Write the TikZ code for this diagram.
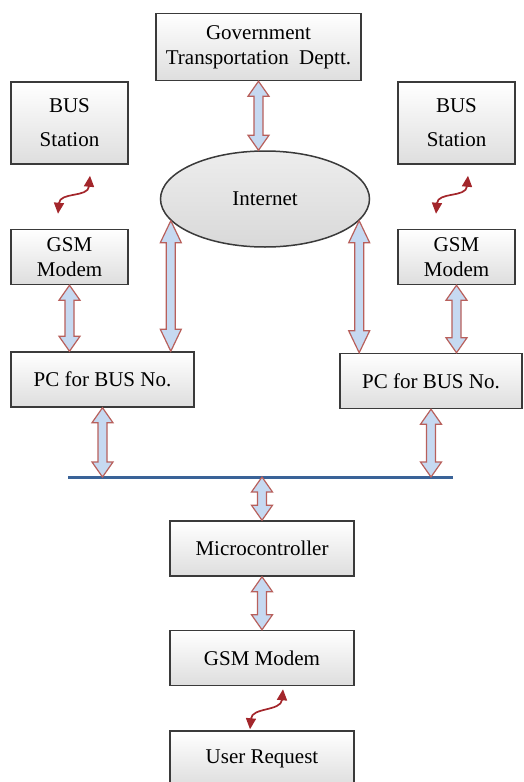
\documentclass[tikz,border=0pt]{standalone}
\usepackage{fontspec}
\setmainfont{Liberation Serif}
\usetikzlibrary{arrows.meta,positioning,calc,shapes.geometric}
\definecolor{edgegray}{HTML}{3A3A3A}
\definecolor{arrowfill}{HTML}{C6D9F1}
\definecolor{arrowline}{HTML}{B8605C}
\definecolor{radiored}{HTML}{A3262B}
\definecolor{busblue}{HTML}{3A6398}
\tikzset{
    %Define standard arrow tip
    >={Triangle[width=10pt,length=11pt]},
    unit/.style={
      rectangle,
      draw=edgegray, line width=1.5pt,
      top color=white, bottom color=black!13,
      inner sep=0pt,
      minimum width=117pt,
      minimum height=55pt,
      align=center,
      font=\fontsize{21}{25}\selectfont},
    net/.style={
      ellipse,
      draw=edgegray, line width=1.5pt,
      top color=black!7, bottom color=black!15,
      inner sep=0pt,
      minimum width=209pt,
      minimum height=96pt,
      font=\fontsize{21}{25}\selectfont},
    blockarrow/.style={
      draw=arrowline, fill=arrowfill,
      line width=1.2pt, line join=miter},
    radio/.style={
      <->, draw=radiored, line width=1.7pt},
    busline/.style={
      draw=busblue, line width=3pt},
}
% two-headed block arrow from a top point down to a bottom point
\newcommand{\twoway}[3][15pt]{%
  \filldraw[blockarrow] let \p1=#2, \p2=#3 in
    (\x1,\y1) -- (\x1+10.5pt,\y1-#1) -- (\x1+4.5pt,\y1-#1)
    -- (\x1+4.5pt,\y2+#1) -- (\x1+10.5pt,\y2+#1) -- (\x1,\y2)
    -- (\x1-10.5pt,\y2+#1) -- (\x1-4.5pt,\y2+#1)
    -- (\x1-4.5pt,\y1-#1) -- (\x1-10.5pt,\y1-#1) -- cycle;}

\begin{document}
\begin{tikzpicture}[x=1pt,y=-1pt]
    \useasboundingbox (0,0) rectangle (524,782);
    \node (inet) [net] at (265,199)
          {Internet};
    \node (gov) [unit] [above=69pt of inet, xshift=-6.5pt,
                        minimum width=205pt, minimum height=67pt]
          {Government\\Transportation\ \ Deptt.};
    \node (bsl) [unit] [minimum height=82pt] at (69.5,123)
          {BUS\\[9pt]Station};
    \node (gsml) [unit] [below=64pt of bsl]
          {GSM\\Modem};
    \node (bsr) [unit] [minimum height=82pt] at (456.5,123)
          {BUS\\[9pt]Station};
    \node (gsmr) [unit] [below=64pt of bsr]
          {GSM\\Modem};
    \node (pcl) [unit] [minimum width=183pt] at (102.5,379.5)
          {PC for BUS No.};
    \node (pcr) [unit] [minimum width=182pt] at (431,381)
          {PC for BUS No.};
    \coordinate (busw) at (68,477);
    \coordinate (buse) at (453,477);
    \node (micro) [unit] [minimum width=184pt] at (262,548.5)
          {Microcontroller};
    \node (gsmb) [unit] [minimum width=184pt] [below=53pt of micro]
          {GSM Modem};
    \node (user) [unit] [minimum width=184pt] [below=44pt of gsmb]
          {User Request};

    % bus
    \draw[busline] (busw) -- (buse);

    % wired links
    \twoway{(gov.south)}{(gov.south |- inet.north)}
    \twoway[22pt]{(inet.193)}{(inet.193 |- pcl.north)}
    \twoway[22pt]{(inet.347)}{(inet.347 |- pcr.north)}
    \twoway{(gsml.south)}{(gsml.south |- pcl.north)}
    \twoway{(gsmr.south)}{(gsmr.south |- pcr.north)}
    \twoway{(pcl.south)}{(pcl.south |- busw)}
    \twoway{(pcr.south)}{(pcr.south |- buse)}
    \twoway{(micro.north |- busw)}{(micro.north)}
    \twoway{(micro.south)}{(gsmb.north)}

    % wireless links
    \coordinate (wl1) at ($(gsml.north)+(-11.5,-15)$);
    \coordinate (wl2) at ($(bsl.south)+(20.5,11)$);
    \coordinate (wr1) at ($(gsmr.north)+(-20.5,-15)$);
    \coordinate (wr2) at ($(bsr.south)+(11.5,11)$);
    \coordinate (wb1) at ($(user.north)+(-12,-1)$);
    \coordinate (wb2) at ($(gsmb.south)+(21,3)$);
    \draw[radio] (wl1) .. controls +(2,-22) and +(-2,22) .. (wl2);
    \draw[radio] (wr1) .. controls +(2,-22) and +(-2,22) .. (wr2);
    \draw[radio] (wb1) .. controls +(2,-22) and +(-2,22) .. (wb2);
  \end{tikzpicture}
\end{document}
